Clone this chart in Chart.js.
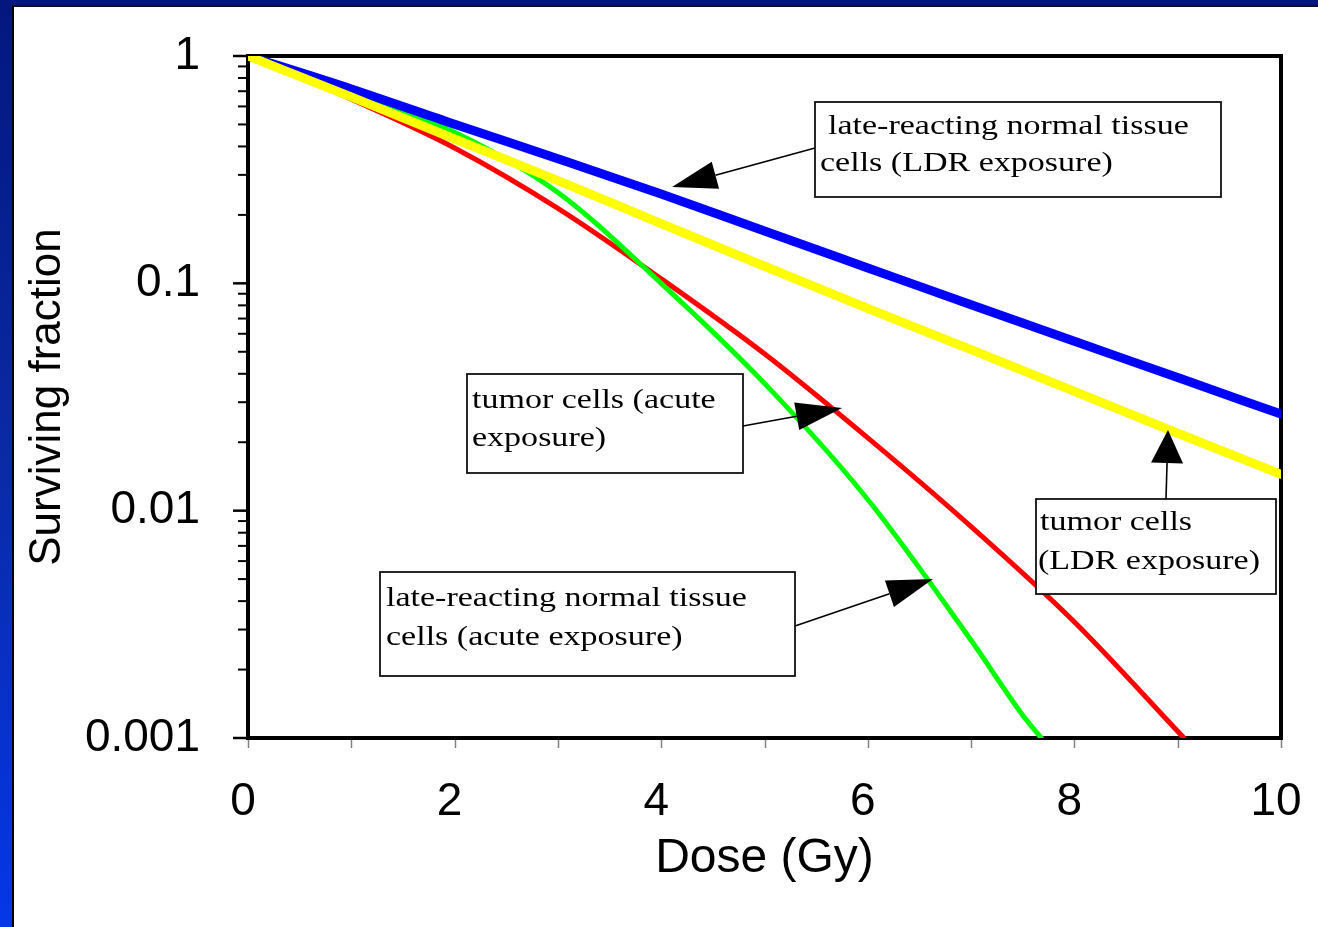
<!DOCTYPE html>
<html><head><meta charset="utf-8">
<script src="https://cdn.jsdelivr.net/npm/chart.js@4"></script>
<style>
html,body{margin:0;padding:0;width:1318px;height:927px;overflow:hidden;}
body{background:linear-gradient(to bottom,#03177e 0%,#0a2aa6 50%,#0437e8 100%);position:relative;}
#panel{position:absolute;left:12px;top:5px;right:0;bottom:0;background:#fff;border-left:2px solid #000;border-top:2px solid #111;}
#c{position:absolute;left:0;top:0;}
</style></head><body>
<div id="panel"></div>
<canvas id="c" width="1318" height="927"></canvas>
<script>
// ---- data ----
const doseLDR = [0,1,2,3,4,5,6,7,8,9,10];
const lateNormalLDR = [1,0.716,0.501,0.3532,0.2472,0.1698,0.1169,0.0805,0.0556,0.0385,0.0266];
const tumorLDR = [1,0.661,0.4315,0.2831,0.1832,0.1189,0.0776,0.0511,0.0335,0.0219,0.01445];
const doseTumorAcute = [0,1,2,3,4,5,6,7,8,9,9.06];
const tumorAcute = [1,0.646,0.394,0.2138,0.1047,0.049,0.0209,0.00851,0.00324,0.00107,0.001];
const doseLateAcute = [0,1,2,3,4,5,6,7,7.5,7.68];
const lateNormalAcute = [1,0.692,0.462,0.251,0.1,0.0363,0.0112,0.00269,0.00126,0.001];
const yTickValues = [1,0.1,0.01,0.001];
const yTickLabels = ['1','0.1','0.01','0.001'];
const xTitle = 'Dose (Gy)';
const yTitle = 'Surviving fraction';

// annotation callouts (page pixels)
const notes = [
 {lines:['late-reacting normal tissue','cells (LDR exposure)'], box:[815,102,1221,197], textX:[828,820], baseY:[134,171], from:[815,148], tip:[672,187], head:[45,14]},
 {lines:['tumor cells (acute','exposure)'], box:[467,374,743,473], textX:[472,472], baseY:[408,446], from:[743,426], tip:[842,408], head:[46,14]},
 {lines:['tumor cells','(LDR exposure)'], box:[1036,499,1276,594], textX:[1040,1038], baseY:[530,569], from:[1166,499], tip:[1168,430], head:[33,16]},
 {lines:['late-reacting normal tissue','cells (acute exposure)'], box:[380,572,795,676], textX:[386,386], baseY:[606,645], from:[795,626], tip:[933,579], head:[46,14]}
];

const pts = (xs, ys) => xs.map((x,i)=>({x:x, y:ys[i]}));

const framePlugin = {
  id:'frame',
  beforeDatasetsDraw(chart){
    const ctx = chart.ctx, a = chart.chartArea;
    const xs = chart.scales.x, ys = chart.scales.y;
    ctx.save();
    ctx.strokeStyle = '#808080'; ctx.lineWidth = 1.5;
    for (let d = 0; d <= 10; d++) {
      const px = Math.round(xs.getPixelForValue(d)) + 0.5;
      ctx.beginPath(); ctx.moveTo(px, a.bottom); ctx.lineTo(px, a.bottom + 10); ctx.stroke();
    }
    ctx.strokeStyle = '#000'; ctx.lineWidth = 2;
    for (let k = -3; k < 0; k++) {
      for (let m = 2; m <= 9; m++) {
        const py = ys.getPixelForValue(m * Math.pow(10, k));
        ctx.beginPath(); ctx.moveTo(a.left - 10, py); ctx.lineTo(a.left, py); ctx.stroke();
      }
    }
    ctx.lineWidth = 2.5;
    yTickValues.forEach(v => {
      const py = ys.getPixelForValue(v);
      ctx.beginPath(); ctx.moveTo(a.left - 15, py); ctx.lineTo(a.left, py); ctx.stroke();
    });
    ctx.lineWidth = 4;
    ctx.strokeRect(a.left, a.top, a.right - a.left, a.bottom - a.top);
    ctx.restore();
  }
};

const notesPlugin = {
  id:'notes',
  afterDraw(chart){
    const ctx = chart.ctx;
    ctx.save();
    notes.forEach(n => {
      const [x0,y0,x1,y1] = n.box;
      ctx.fillStyle = '#fff';
      ctx.fillRect(x0, y0, x1-x0, y1-y0);
      ctx.strokeStyle = '#111'; ctx.lineWidth = 1.8;
      ctx.strokeRect(x0, y0, x1-x0, y1-y0);
      ctx.fillStyle = '#000';
      ctx.font = '27px "Liberation Serif", "Times New Roman", serif';
      ctx.textBaseline = 'alphabetic'; ctx.textAlign = 'left';
      n.lines.forEach((t,i) => {
        ctx.save(); ctx.translate(n.textX[i], n.baseY[i]); ctx.scale(1.26, 1);
        ctx.fillText(t, 0, 0); ctx.restore();
      });
      const [fx,fy] = n.from, [tx,ty] = n.tip;
      const dx = tx - fx, dy = ty - fy, L = Math.hypot(dx,dy);
      const ux = dx/L, uy = dy/L;
      const [hl,hw] = n.head;
      const bx = tx - ux*hl, by = ty - uy*hl;
      ctx.strokeStyle = '#000'; ctx.lineWidth = 1.6;
      ctx.beginPath(); ctx.moveTo(fx,fy); ctx.lineTo(bx,by); ctx.stroke();
      ctx.beginPath();
      ctx.moveTo(tx,ty);
      ctx.lineTo(bx - uy*hw, by + ux*hw);
      ctx.lineTo(bx + uy*hw, by - ux*hw);
      ctx.closePath(); ctx.fill();
    });
    ctx.restore();
  }
};

const sans = '"Liberation Sans", Arial, Helvetica, sans-serif';

new Chart(document.getElementById('c').getContext('2d'), {
  type:'line',
  data:{datasets:[
    {label:'tumor cells (LDR exposure)', data:pts(doseLDR,tumorLDR), borderColor:'#ffff00', borderWidth:9},
    {label:'late-reacting normal tissue cells (LDR exposure)', data:pts(doseLDR,lateNormalLDR), borderColor:'#0000ff', borderWidth:9},
    {label:'late-reacting normal tissue cells (acute exposure)', data:pts(doseLateAcute,lateNormalAcute), borderColor:'#00ff00', borderWidth:5},
    {label:'tumor cells (acute exposure)', data:pts(doseTumorAcute,tumorAcute), borderColor:'#ff0000', borderWidth:5}
  ]},
  options:{
    responsive:false, animation:false, devicePixelRatio:1,
    elements:{point:{radius:0}, line:{cubicInterpolationMode:'monotone', fill:false, borderCapStyle:'round', borderJoinStyle:'round'}},
    plugins:{legend:{display:false}, tooltip:{enabled:false}},
    layout:{padding:{left:0, top:56, right:37, bottom:0}},
    scales:{
      x:{type:'linear', min:0, max:10,
         ticks:{stepSize:2, color:'#000', font:{family:sans, size:46}, padding:37, labelOffset:-5, maxRotation:0},
         grid:{display:false, drawTicks:false}, border:{display:false},
         title:{display:true, text:xTitle, color:'#000', font:{family:sans, size:48}, padding:{top:0, bottom:39}},
         afterFit(s){ s.height = 189; s.paddingLeft = 0; s.paddingRight = 0; }
      },
      y:{type:'logarithmic', min:0.001, max:1,
         afterBuildTicks(s){ s.ticks = yTickValues.map(v => ({value:v, major:true})); },
         ticks:{color:'#000', font:{family:sans, size:46}, padding:48,
                callback:(v) => { const i = yTickValues.findIndex(t => Math.abs(t - v) < v*1e-6); return i >= 0 ? yTickLabels[i] : ''; }},
         grid:{display:false, drawTicks:false}, border:{display:false},
         title:{display:true, text:yTitle, color:'#000', font:{family:sans, size:44}, padding:{top:21, bottom:0}},
         afterFit(s){ s.width = 248; s.paddingTop = 0; s.paddingBottom = 0; }
      }
    }
  },
  plugins:[framePlugin, notesPlugin]
});
</script>
</body></html>
